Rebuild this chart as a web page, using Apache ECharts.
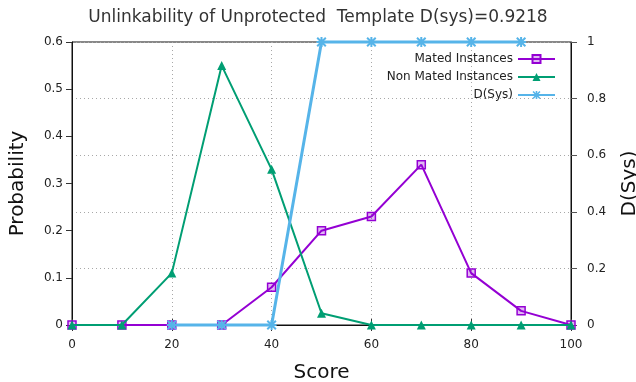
<!DOCTYPE html>
<html>
<head>
<meta charset="utf-8">
<script src="https://cdn.jsdelivr.net/npm/echarts@6/dist/echarts.min.js"></script>
<style>
  html, body { margin: 0; padding: 0; background: #fff; }
  #chart { width: 636px; height: 382px; }
</style>
</head>
<body>
<div id="chart"></div>
<script>
// Score bins shared by the two probability curves
const scores = [0, 10, 20, 30, 40, 50, 60, 70, 80, 90, 100];
const matedProb = [0, 0, 0, 0, 0.08, 0.2, 0.23, 0.34, 0.11, 0.03, 0];
const nonMatedProb = [0, 0, 0.11, 0.55, 0.33, 0.025, 0, 0, 0, 0, 0];
// D(Sys) is only defined from score 20 to 90
const dsysScores = [20, 30, 40, 50, 60, 70, 80, 90];
const dsysValues = [0, 0, 0, 1, 1, 1, 1, 1];

const seriesNames = ['Mated Instances', 'Non Mated Instances', 'D(Sys)'];
const titleText = 'Unlinkability of Unprotected  Template D(sys)=0.9218';

const FONT = 'DejaVu Sans';
const pairs = (xs, ys) => xs.map((x, i) => [x, ys[i]]);

// asterisk marker: vertical, horizontal and two diagonal bars
const starPath = 'path://M4,0L6,0L6,10L4,10Z M0,4L10,4L10,6L0,6Z ' +
  'M0,1.4L1.4,0L10,8.6L8.6,10Z M8.6,0L10,1.4L1.4,10L0,8.6Z';

const gridDots = { type: [1, 3], color: '#a8a8a8', width: 1 };
const labelStyle = { color: '#222', fontFamily: FONT, fontSize: 12 };
const nameStyle = { color: '#111', fontFamily: FONT, fontSize: 20 };

const chart = echarts.init(document.getElementById('chart'), null, { renderer: 'canvas' });
chart.setOption({
  animation: false,
  backgroundColor: '#fff',
  title: {
    text: titleText,
    left: 'center',
    top: 4,
    textStyle: { color: '#333', fontFamily: FONT, fontSize: 17, fontWeight: 'normal' }
  },
  legend: {
    orient: 'vertical',
    right: 80,
    top: 53,
    padding: 0,
    align: 'right',
    itemWidth: 37,
    itemHeight: 10,
    itemGap: 6,
    data: seriesNames,
    textStyle: { color: '#222', fontFamily: FONT, fontSize: 12 }
  },
  grid: {
    left: 72, right: 65, top: 42, bottom: 57,
    containLabel: false, outerBoundsMode: 'none',
    show: true, borderColor: '#111', borderWidth: 1, backgroundColor: 'transparent'
  },
  xAxis: [
    {
      type: 'value', min: 0, max: 100, interval: 20,
      name: 'Score', nameLocation: 'middle', nameGap: 38, nameTextStyle: nameStyle,
      axisLine: { show: true, onZero: false, lineStyle: { color: '#444', width: 1 } },
      axisTick: { show: true, inside: false, length: 6, lineStyle: { color: '#333' } },
      axisLabel: Object.assign({ margin: 14 }, labelStyle),
      splitLine: { show: true, lineStyle: gridDots }
    },
    {
      type: 'value', min: 0, max: 100, interval: 20, position: 'top',
      axisLine: { show: true, lineStyle: { color: '#111', width: 1 } },
      axisTick: { show: true, inside: false, length: 6, lineStyle: { color: '#333' } },
      axisLabel: { show: false },
      splitLine: { show: false }
    }
  ],
  yAxis: [
    {
      type: 'value', min: 0, max: 0.6, interval: 0.1, position: 'left',
      name: 'Probability', nameLocation: 'middle', nameRotate: 90, nameGap: 44,
      nameTextStyle: nameStyle,
      axisLine: { show: true, onZero: false, lineStyle: { color: '#111', width: 1 } },
      axisTick: { show: true, inside: false, length: 6, lineStyle: { color: '#333' } },
      axisLabel: Object.assign({ margin: 9 }, labelStyle),
      splitLine: { show: false }
    },
    {
      type: 'value', min: 0, max: 1, interval: 0.2, position: 'right',
      name: 'D(Sys)', nameLocation: 'middle', nameRotate: 90, nameGap: 49,
      nameTextStyle: nameStyle,
      axisLine: { show: true, onZero: false, lineStyle: { color: '#111', width: 1 } },
      axisTick: { show: true, inside: false, length: 6, lineStyle: { color: '#555' } },
      axisLabel: Object.assign({ margin: 16 }, labelStyle),
      splitLine: { show: true, lineStyle: gridDots }
    }
  ],
  series: [
    {
      name: seriesNames[0], type: 'line', xAxisIndex: 0, yAxisIndex: 0,
      data: pairs(scores, matedProb),
      color: '#9400D3',
      clip: false,
      symbol: 'rect', symbolSize: 8,
      itemStyle: { color: 'rgba(148,0,211,0.28)', borderColor: '#9400D3', borderWidth: 1.5 },
      lineStyle: { color: '#9400D3', width: 2 },
      z: 2
    },
    {
      name: seriesNames[1], type: 'line', xAxisIndex: 0, yAxisIndex: 0,
      data: pairs(scores, nonMatedProb),
      color: '#009E73',
      clip: false,
      symbol: 'triangle', symbolSize: 9,
      itemStyle: { color: '#009E73' },
      lineStyle: { color: '#009E73', width: 2 },
      z: 3
    },
    {
      name: seriesNames[2], type: 'line', xAxisIndex: 0, yAxisIndex: 1,
      data: pairs(dsysScores, dsysValues),
      color: '#56B4E9',
      clip: false,
      symbol: starPath, symbolSize: 10,
      itemStyle: { color: '#56B4E9' },
      lineStyle: { color: '#56B4E9', width: 3 },
      z: 4
    }
  ]
});
</script>
</body>
</html>
